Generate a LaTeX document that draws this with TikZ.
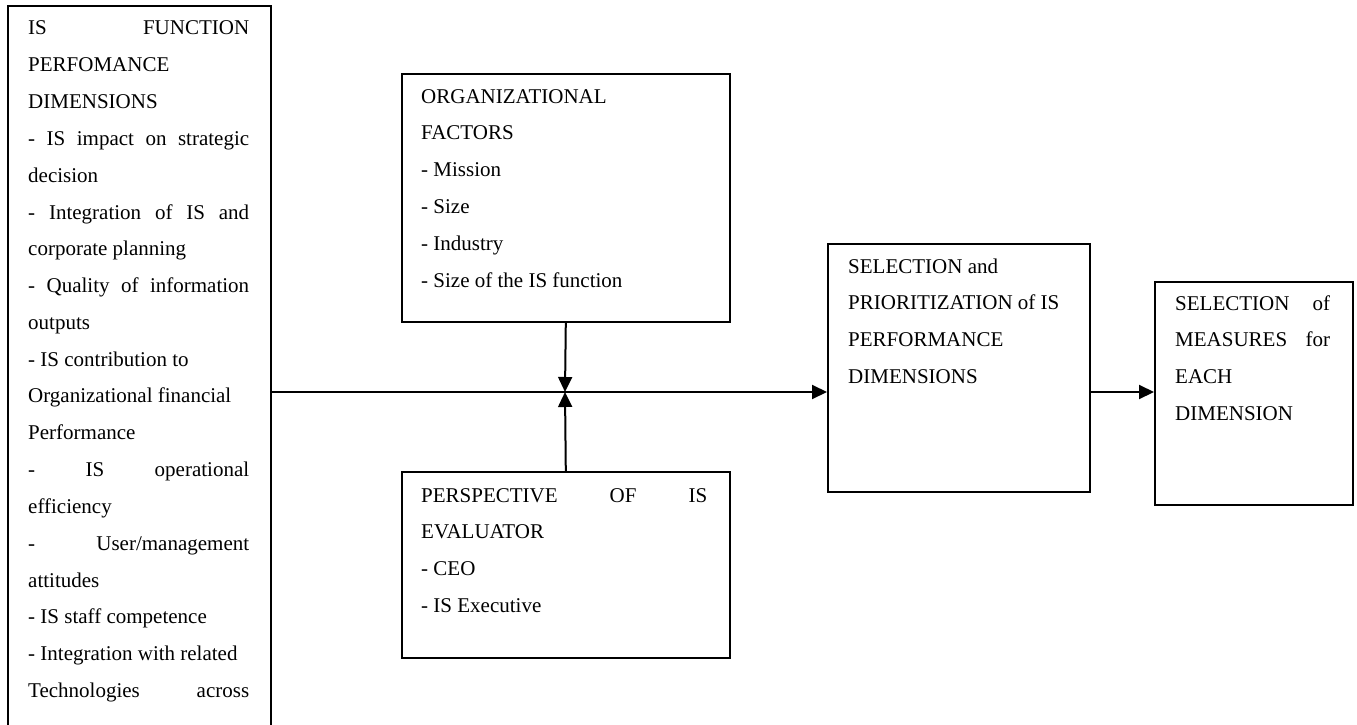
\documentclass[tikz,border=0pt]{standalone}
\usepackage{fontspec}
\setmainfont{Liberation Serif}
\usetikzlibrary{arrows.meta}
\newcommand{\jline}[1]{\makebox[\linewidth][s]{#1}}
\begin{document}
\begin{tikzpicture}[x=1pt,y=-1pt,
  box/.style={draw, line width=1.6pt, inner sep=0pt, anchor=north west},
  txt/.style={inner sep=0pt, anchor=base west, font=\fontsize{21}{36.8}\selectfont},
  conn/.style={line width=2pt, -{Triangle[length=15pt,width=14pt]}}]
\clip (0,0) rectangle (1357,725);
\fill[white] (0,0) rectangle (1357,725);
% boxes
\node[box, minimum width=263pt, minimum height=745pt] (perf) at (7,5) {};
\node[box, minimum width=328pt, minimum height=248pt] (org) at (401,73) {};
\node[box, minimum width=328pt, minimum height=186pt] (persp) at (401,471) {};
\node[box, minimum width=262pt, minimum height=248pt] (sel) at (827,243) {};
\node[box, minimum width=198pt, minimum height=223pt] (meas) at (1154,281) {};
% texts
\node[txt] (perftxt) at (28,35) {\parbox[t]{221pt}{\raggedright
\jline{IS FUNCTION}\\
PERFOMANCE\\
DIMENSIONS\\
\jline{- IS impact on strategic}\\
decision\\
\jline{- Integration of IS and}\\
corporate planning\\
\jline{- Quality of information}\\
outputs\\
- IS contribution to\\
Organizational financial\\
Performance\\
\jline{- IS operational}\\
efficiency\\
\jline{- User/management}\\
attitudes\\
- IS staff competence\\
- Integration with related\\
\jline{Technologies across}}};
\node[txt] (orgtxt) at (421,103) {\parbox[t]{288pt}{\raggedright
ORGANIZATIONAL\\
FACTORS\\
- Mission\\
- Size\\
- Industry\\
- Size of the IS function}};
\node[txt] (persptxt) at (421,502) {\parbox[t]{286pt}{\raggedright
\jline{PERSPECTIVE OF IS}\\
EVALUATOR\\
- CEO\\
- IS Executive}};
\node[txt] (seltxt) at (848,273) {\parbox[t]{220pt}{\raggedright
SELECTION and\\
PRIORITIZATION of IS\\
PERFORMANCE\\
DIMENSIONS}};
\node[txt] (meastxt) at (1175,310) {\parbox[t]{155pt}{\raggedright
\jline{SELECTION of}\\
\jline{MEASURES for}\\
EACH\\
DIMENSION}};
% connectors
\coordinate (j) at (565,392);
\draw[conn] (perf.east |- j) -- (sel.west |- j);
\draw[conn] (sel.east |- j) -- (meas.west |- j);
\draw[conn] (org.south) -- (j);
\draw[conn] (persp.north) -- (j);
\end{tikzpicture}
\end{document}
